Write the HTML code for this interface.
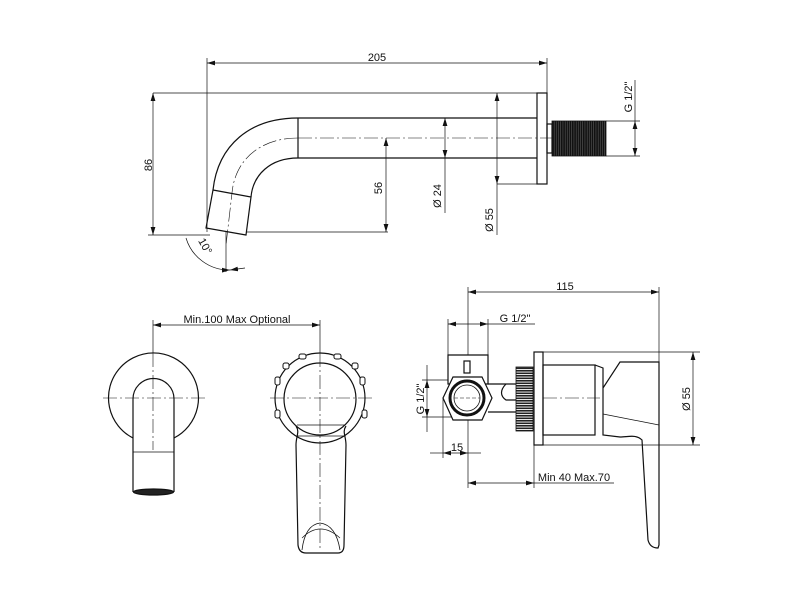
<!DOCTYPE html>
<html><head><meta charset="utf-8"><style>
html,body{margin:0;padding:0;background:#fff}
svg{display:block}
text{font-family:"Liberation Sans",sans-serif;font-size:11px;fill:#111}
</style></head><body>
<svg width="800" height="600" viewBox="0 0 800 600" xmlns="http://www.w3.org/2000/svg">
<defs>
<marker id="a" viewBox="0 0 10 6" refX="10" refY="3" markerWidth="8" markerHeight="5" orient="auto-start-reverse" markerUnits="userSpaceOnUse"><path d="M0,0 L10,3 L0,6 z" fill="#111"/></marker>
<pattern id="th" width="2.2" height="4" patternUnits="userSpaceOnUse"><rect width="2.2" height="4" fill="#666"/><rect width="1.7" height="4" fill="#111"/></pattern>
<pattern id="tv" width="4" height="2.5" patternUnits="userSpaceOnUse"><rect width="4" height="2.5" fill="#fff"/><rect width="4" height="1.6" fill="#222"/></pattern>
</defs>
<g fill="none" stroke="#111" stroke-width="0.7">
<line x1="207" y1="63" x2="547" y2="63" marker-start="url(#a)" marker-end="url(#a)"/>
<line x1="207" y1="58" x2="207" y2="232"/>
<line x1="547" y1="58" x2="547" y2="93"/>
<line x1="153" y1="93" x2="537" y2="93" />
<line x1="153" y1="93" x2="153" y2="235" marker-start="url(#a)" marker-end="url(#a)"/>
<line x1="148" y1="235" x2="210" y2="235"/>
<line x1="246" y1="232" x2="388" y2="232"/>
<line x1="386" y1="138" x2="386" y2="232" marker-start="url(#a)" marker-end="url(#a)"/>
<line x1="445" y1="118" x2="445" y2="158" marker-start="url(#a)" marker-end="url(#a)"/>
<line x1="445" y1="158" x2="445" y2="213"/>
<line x1="497" y1="93" x2="497" y2="184" marker-start="url(#a)" marker-end="url(#a)"/>
<line x1="497" y1="184" x2="497" y2="235"/>
<line x1="497" y1="184" x2="537" y2="184"/>
<line x1="606" y1="121" x2="640" y2="121"/>
<line x1="606" y1="156" x2="640" y2="156"/>
<line x1="635" y1="121" x2="635" y2="156" marker-start="url(#a)" marker-end="url(#a)"/>
<line x1="635" y1="80" x2="635" y2="121"/>
<g stroke-dasharray="14,3,2,3" stroke-width="0.6">
<line x1="298" y1="138" x2="552" y2="138"/>
<path d="M298,138 C260,138 235,160 232,193 L226,245"/>
</g>
<path d="M186,238 A45,45 0 0 0 230,270" marker-end="url(#a)"/>
<line x1="230" y1="270" x2="245" y2="268" marker-start="url(#a)"/>
<line x1="226" y1="232" x2="226" y2="272"/>
</g>
<g fill="none" stroke="#111" stroke-width="1.2">
<rect x="537" y="93" width="10" height="91"/>
<line x1="298" y1="118" x2="537" y2="118"/>
<line x1="298" y1="158" x2="537" y2="158"/>
<line x1="298" y1="118" x2="298" y2="158"/>
<path d="M298,118 C250,118 218,145 213,190"/>
<path d="M298,158 C270,158 253,175 251,197"/>
<path d="M213,190 L251,197 L246,235 L206,228 Z"/>
<rect x="547" y="124" width="5" height="29"/>
</g>
<rect x="552" y="121" width="54" height="35" fill="url(#th)" stroke="#111" stroke-width="0.8"/>
<text x="377" y="61" text-anchor="middle">205</text>
<text transform="translate(152,165) rotate(-90)" text-anchor="middle">86</text>
<text transform="translate(382,188) rotate(-90)" text-anchor="middle">56</text>
<text transform="translate(441,196) rotate(-90)" text-anchor="middle">Ø 24</text>
<text transform="translate(493,220) rotate(-90)" text-anchor="middle">Ø 55</text>
<text transform="translate(632,97) rotate(-90)" text-anchor="middle">G 1/2"</text>
<text transform="translate(202,248) rotate(60)" text-anchor="middle" font-size="10">10°</text>

<g fill="none" stroke="#111" stroke-width="0.7">
<line x1="153" y1="325" x2="320" y2="325" marker-start="url(#a)" marker-end="url(#a)"/>
<line x1="153" y1="320" x2="153" y2="353"/>
<line x1="320" y1="320" x2="320" y2="353"/>
<g stroke-dasharray="14,3,2,3" stroke-width="0.6">
<line x1="103" y1="398" x2="205" y2="398"/>
<line x1="153" y1="353" x2="153" y2="450"/>
<line x1="270" y1="398" x2="372" y2="398"/>
<line x1="320" y1="353" x2="320" y2="550"/>
</g>
<line x1="133" y1="452" x2="174" y2="452"/>
</g>
<text x="237" y="323" text-anchor="middle">Min.100 Max Optional</text>
<g fill="none" stroke="#111" stroke-width="1.2">
<path d="M133,438 A45,45 0 1 1 174,438"/>
<path d="M133,492 L133,399 A20.5,20.5 0 0 1 174,399 L174,492"/>
<ellipse cx="153.5" cy="492" rx="20" ry="3" fill="#222"/>
<circle cx="320" cy="398" r="45"/>
<circle cx="320" cy="399" r="36"/>
<path d="M296,426 C300,432 296,436 296,445 L298,545 Q299,553 306,553 L338,553 Q344,553 344,545 L346,445 C346,436 342,432 346,426"/>
<line x1="297" y1="425" x2="345" y2="425" stroke-width="0.8"/>
<line x1="297" y1="436" x2="345" y2="436" stroke-width="0.8"/>
<path d="M302,550 Q305,525 320,523 Q336,525 340,550" stroke-width="0.8"/>
<path d="M302,538 Q320,520 340,538" stroke-width="0.6"/>
</g>
<g fill="#fff" stroke="#111" stroke-width="1">
<rect x="299" y="354" width="7" height="5" rx="2"/>
<rect x="334" y="354" width="7" height="5" rx="2"/>
<rect x="275" y="377" width="5" height="8" rx="2"/>
<rect x="360" y="377" width="5" height="8" rx="2"/>
<rect x="275" y="410" width="5" height="8" rx="2"/>
<rect x="362" y="410" width="5" height="8" rx="2"/>
<rect x="352" y="363" width="6" height="6" rx="2"/>
<rect x="283" y="363" width="6" height="6" rx="2"/>
</g>

<g fill="none" stroke="#111" stroke-width="0.7">
<line x1="468" y1="292" x2="659" y2="292" marker-start="url(#a)" marker-end="url(#a)"/>
<line x1="468" y1="287" x2="468" y2="488"/>
<line x1="659" y1="287" x2="659" y2="362"/>
<line x1="448" y1="324" x2="488" y2="324" marker-start="url(#a)" marker-end="url(#a)"/>
<line x1="488" y1="324" x2="535" y2="324"/>
<line x1="448" y1="319" x2="448" y2="355"/>
<line x1="488" y1="319" x2="488" y2="355"/>
<line x1="427" y1="380" x2="427" y2="417" marker-start="url(#a)" marker-end="url(#a)"/>
<line x1="427" y1="365" x2="427" y2="380"/>
<line x1="427" y1="417" x2="427" y2="432"/>
<line x1="422" y1="380" x2="458" y2="380"/>
<line x1="422" y1="417" x2="458" y2="417"/>
<line x1="443" y1="453" x2="468" y2="453" marker-start="url(#a)" marker-end="url(#a)"/>
<line x1="430" y1="453" x2="443" y2="453"/>
<line x1="468" y1="453" x2="481" y2="453"/>
<line x1="443" y1="398" x2="443" y2="458"/>
<line x1="468" y1="483" x2="534" y2="483" marker-start="url(#a)" marker-end="url(#a)"/>
<line x1="534" y1="483" x2="614" y2="483"/>
<line x1="534" y1="445" x2="534" y2="488"/>
<line x1="543" y1="352" x2="700" y2="352"/>
<line x1="543" y1="445" x2="700" y2="445"/>
<line x1="693" y1="352" x2="693" y2="445" marker-start="url(#a)" marker-end="url(#a)"/>
<line x1="543" y1="398" x2="600" y2="398" stroke-dasharray="14,3,2,3" stroke-width="0.6"/>
<line x1="450" y1="398" x2="486" y2="398" stroke-dasharray="6,2" stroke-width="0.6"/>
<line x1="603" y1="414" x2="659" y2="425"/>
</g>
<text x="565" y="290" text-anchor="middle">115</text>
<text x="515" y="322" text-anchor="middle">G 1/2"</text>
<text transform="translate(424,399) rotate(-90)" text-anchor="middle">G 1/2"</text>
<text x="457" y="451" text-anchor="middle">15</text>
<text x="574" y="481" text-anchor="middle">Min 40 Max.70</text>
<text transform="translate(690,399) rotate(-90)" text-anchor="middle">Ø 55</text>
<g fill="none" stroke="#111" stroke-width="1.2">
<path d="M448,355 L488,355 L488,384 L448,384 Z" fill="#fff"/>
<rect x="464" y="361" width="6" height="12" fill="#fff"/>
<path d="M488,384 L516,384 M488,412 L516,412"/>
<path d="M506,384 C500,390 500,396 506,400 L516,400"/>
<polygon points="443,398 453,377 482,377 492,398 482,420 453,420" fill="#fff"/>
<circle cx="467" cy="398" r="17" stroke-width="3"/>
<circle cx="467" cy="398" r="13" stroke-width="0.8"/>
<line x1="454" y1="398" x2="480" y2="398" stroke-width="0.6" stroke-dasharray="4,2"/>
<rect x="534" y="352" width="9" height="93"/>
<rect x="543" y="365" width="52" height="70"/>
<path d="M595,365 L603,368 L603,435 L620,437 C628,437 636,434 642,440 L648,540 Q650,548 658,548 L659,545 L659,362 L620,362 L603,388"/>
</g>
<rect x="516" y="367" width="17" height="64" fill="url(#tv)" stroke="#111" stroke-width="0.8"/>
</svg>
</body></html>
